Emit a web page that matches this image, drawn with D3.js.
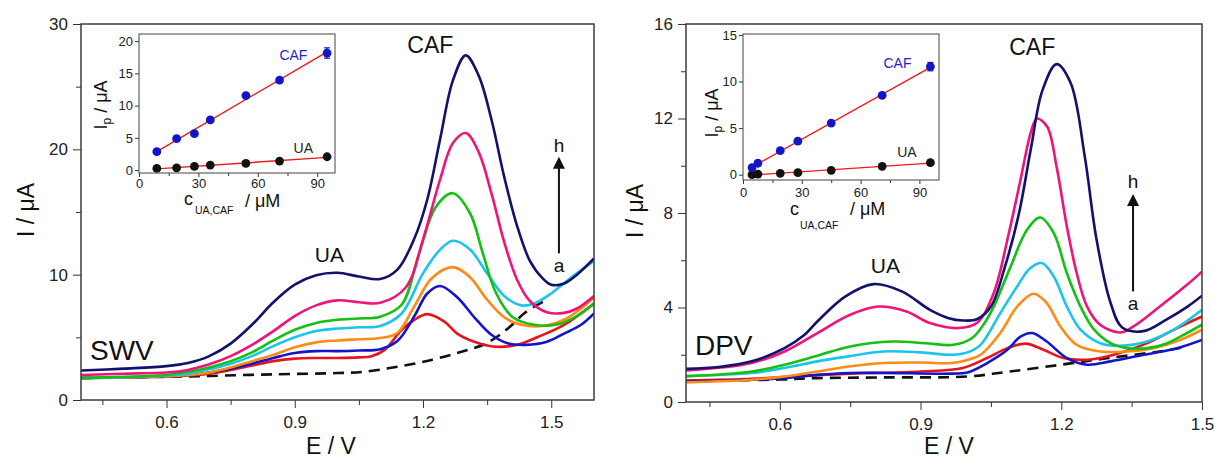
<!DOCTYPE html>
<html>
<head>
<meta charset="utf-8">
<script src="https://cdn.jsdelivr.net/npm/d3@7"></script>
<style>
  body { margin: 0; background: #fff; }
  svg { display: block; font-family: "Liberation Sans", Arial, sans-serif; }
</style>
</head>
<body>
<svg id="chart" width="1215" height="458"></svg>
<script>
// ---------- Square-wave voltammograms (E / V, I / µA), curves a..h ----------
const swvA = [[0.40,1.75],[0.60,1.85],[0.70,1.92],[0.85,2.05],[1.00,2.15],[1.06,2.25],[1.14,2.65],[1.22,3.2],[1.29,3.85],[1.35,4.55],[1.40,5.75],[1.44,7.0],[1.49,8.0]];
const swvB = [[0.40,1.75],[0.50,1.8],[0.60,1.88],[0.65,1.95],[0.70,2.1],[0.75,2.4],[0.80,2.75],[0.85,3.1],[0.90,3.3],[0.95,3.35],[1.00,3.35],[1.05,3.4],[1.08,3.5],[1.11,4.0],[1.15,5.6],[1.18,6.4],[1.21,6.85],[1.25,6.25],[1.28,5.3],[1.32,4.65],[1.37,4.25],[1.42,4.4],[1.47,5.05],[1.53,6.0],[1.60,7.7]];
const swvC = [[0.40,1.75],[0.50,1.8],[0.60,1.9],[0.65,2.0],[0.70,2.2],[0.75,2.5],[0.80,2.9],[0.85,3.35],[0.90,3.75],[0.95,3.9],[1.00,3.9],[1.05,3.95],[1.10,4.05],[1.14,4.7],[1.18,6.7],[1.21,8.5],[1.24,9.1],[1.28,8.2],[1.32,6.6],[1.36,5.2],[1.40,4.5],[1.44,4.4],[1.49,4.65],[1.53,5.3],[1.57,6.0],[1.60,6.9]];
const swvD = [[0.40,1.75],[0.50,1.8],[0.60,1.9],[0.65,2.0],[0.70,2.2],[0.75,2.6],[0.80,3.1],[0.85,3.6],[0.90,4.2],[0.95,4.6],[1.00,4.75],[1.05,4.85],[1.10,4.95],[1.14,5.35],[1.18,7.5],[1.22,9.7],[1.27,10.6],[1.31,9.8],[1.35,8.0],[1.39,6.6],[1.43,6.0],[1.48,5.9],[1.53,6.4],[1.57,7.3],[1.60,8.2]];
const swvE = [[0.40,1.75],[0.50,1.82],[0.60,1.95],[0.65,2.1],[0.70,2.45],[0.75,2.9],[0.80,3.5],[0.85,4.3],[0.90,5.0],[0.95,5.5],[1.00,5.7],[1.05,5.8],[1.10,5.9],[1.15,6.9],[1.20,10.1],[1.24,12.0],[1.27,12.7],[1.31,12.0],[1.35,10.1],[1.39,8.3],[1.43,7.55],[1.46,7.7],[1.50,8.5],[1.54,9.6],[1.60,11.1]];
const swvF = [[0.40,1.75],[0.50,1.85],[0.60,2.0],[0.65,2.25],[0.70,2.6],[0.75,3.1],[0.80,3.8],[0.85,4.75],[0.90,5.6],[0.95,6.15],[1.00,6.4],[1.05,6.5],[1.10,6.65],[1.15,7.6],[1.19,11.6],[1.23,15.4],[1.27,16.5],[1.31,14.9],[1.34,11.7],[1.37,8.6],[1.41,6.6],[1.46,6.0],[1.51,6.0],[1.56,6.7],[1.60,7.7]];
const swvG = [[0.40,2.0],[0.50,2.1],[0.60,2.2],[0.65,2.4],[0.70,2.85],[0.75,3.5],[0.80,4.4],[0.85,5.5],[0.90,6.7],[0.95,7.55],[1.00,7.95],[1.05,7.8],[1.10,7.75],[1.16,9.0],[1.20,12.8],[1.24,17.6],[1.27,20.5],[1.30,21.3],[1.33,19.8],[1.36,16.5],[1.39,12.6],[1.42,9.6],[1.45,7.9],[1.49,7.0],[1.53,6.95],[1.56,7.3],[1.60,8.3]];
const swvH = [[0.40,2.35],[0.50,2.5],[0.60,2.7],[0.65,2.95],[0.70,3.5],[0.75,4.5],[0.80,6.0],[0.85,7.8],[0.90,9.2],[0.95,9.95],[1.00,10.15],[1.05,9.85],[1.10,9.65],[1.14,10.4],[1.18,12.9],[1.21,16.0],[1.24,20.8],[1.27,25.5],[1.30,27.5],[1.33,25.9],[1.36,22.4],[1.39,17.8],[1.42,13.9],[1.45,11.1],[1.48,9.7],[1.50,9.2],[1.53,9.3],[1.56,10.0],[1.60,11.3]];

// ---------- Differential pulse voltammograms, curves a..h ----------
const dpvA = [[0.40,0.9],[0.60,0.95],[0.68,1.01],[0.82,1.04],[1.00,1.08],[1.09,1.29],[1.20,1.58],[1.30,1.86],[1.41,2.14],[1.47,2.35]];
const dpvB = [[0.40,0.9],[0.54,0.98],[0.61,1.06],[0.75,1.2],[0.90,1.29],[0.99,1.44],[1.042,1.86],[1.085,2.28],[1.124,2.47],[1.162,2.21],[1.205,1.86],[1.255,1.79],[1.312,2.0],[1.383,2.49],[1.447,3.13],[1.50,3.62]];
const dpvC = [[0.40,0.87],[0.54,0.94],[0.61,1.01],[0.68,1.15],[0.75,1.23],[0.82,1.23],[0.967,1.2],[1.00,1.25],[1.042,1.65],[1.085,2.21],[1.113,2.77],[1.138,2.92],[1.169,2.56],[1.212,1.86],[1.255,1.58],[1.305,1.72],[1.376,2.0],[1.447,2.28],[1.50,2.63]];
const dpvD = [[0.40,0.83],[0.54,0.94],[0.61,1.08],[0.68,1.29],[0.75,1.51],[0.82,1.65],[0.90,1.67],[0.967,1.65],[1.00,1.78],[1.028,2.0],[1.07,2.92],[1.106,4.04],[1.141,4.58],[1.169,4.19],[1.198,3.2],[1.233,2.42],[1.283,2.14],[1.34,2.14],[1.397,2.28],[1.454,2.63],[1.50,3.06]];
const dpvE = [[0.40,1.11],[0.54,1.23],[0.61,1.44],[0.68,1.72],[0.746,1.93],[0.82,2.14],[0.90,2.1],[0.967,2.0],[1.00,2.1],[1.028,2.42],[1.07,3.76],[1.106,4.89],[1.134,5.67],[1.159,5.88],[1.184,5.31],[1.212,4.04],[1.241,3.06],[1.283,2.49],[1.326,2.38],[1.383,2.56],[1.44,3.06],[1.50,3.9]];
const dpvF = [[0.40,1.08],[0.54,1.29],[0.61,1.58],[0.68,1.96],[0.75,2.35],[0.84,2.56],[0.91,2.49],[0.97,2.42],[1.01,2.71],[1.035,3.3],[1.056,4.04],[1.092,5.73],[1.127,7.29],[1.155,7.81],[1.184,7.15],[1.212,5.45],[1.241,4.04],[1.27,3.06],[1.305,2.49],[1.34,2.28],[1.383,2.28],[1.426,2.49],[1.468,2.92],[1.50,3.27]];
const dpvG = [[0.40,1.34],[0.47,1.45],[0.54,1.65],[0.61,2.14],[0.68,2.92],[0.75,3.69],[0.81,4.04],[0.87,3.83],[0.92,3.34],[0.98,3.13],[1.02,3.34],[1.056,4.61],[1.085,6.86],[1.113,9.4],[1.135,11.4],[1.148,12.0],[1.17,11.65],[1.19,9.96],[1.212,7.42],[1.233,5.45],[1.255,4.04],[1.283,3.27],[1.326,2.94],[1.354,3.2],[1.41,4.04],[1.468,4.96],[1.50,5.52]];
const dpvH = [[0.40,1.40],[0.47,1.48],[0.54,1.72],[0.61,2.28],[0.65,2.8],[0.68,3.41],[0.74,4.47],[0.80,4.99],[0.86,4.68],[0.92,3.9],[0.96,3.55],[0.99,3.45],[1.02,3.5],[1.05,4.04],[1.08,5.73],[1.11,8.0],[1.135,10.7],[1.16,13.2],[1.19,14.3],[1.22,13.5],[1.25,10.4],[1.275,6.9],[1.305,4.2],[1.33,3.15],[1.375,3.0],[1.425,3.5],[1.47,4.05],[1.50,4.5]];

// ---------- Calibration data for the insets (c / µM, Ip / µA) ----------
const swvConc = [9, 19, 28, 36, 54, 71, 95];
const swvCafPeak = [2.85, 4.87, 5.65, 7.78, 11.56, 13.95, 18.15];
const swvCafErr = [0.2, 0.2, 0.2, 0.2, 0.25, 0.3, 0.8];
const swvUaPeak = [0.26, 0.36, 0.57, 0.78, 1.04, 1.40, 2.07];

const dpvConc = [4.6, 7.6, 19, 28, 45, 71, 95.6];
const dpvCafPeak = [0.75, 1.23, 2.58, 3.60, 5.54, 8.52, 11.6];
const dpvCafErr = [0.1, 0.1, 0.1, 0.15, 0.15, 0.2, 0.45];
const dpvUaPeak = [0.0, 0.07, 0.15, 0.22, 0.47, 0.90, 1.29];

// ---------- Tick values ----------
const swvXTicks = [0.6, 0.9, 1.2, 1.5];
const swvXMinor = [0.45, 0.75, 1.05, 1.35];
const swvYTicks = [0, 10, 20, 30];
const swvYMinor = [5, 15, 25];
const dpvXTicks = [0.6, 0.9, 1.2, 1.5];
const dpvXMinor = [0.45, 0.75, 1.05, 1.35];
const dpvYTicks = [0, 4, 8, 12, 16];
const dpvYMinor = [2, 6, 10, 14];
const swvInsetYTicks = [0, 5, 10, 15, 20];
const dpvInsetYTicks = [0, 5, 10, 15];
const insetXTicks = [0, 30, 60, 90];
const insetXMinor = [15, 45, 75];

const curveColors = {
  a: "#111111", b: "#e8141c", c: "#1414c8", d: "#ff8a14",
  e: "#1cc4ea", f: "#14c014", g: "#f0147a", h: "#12126e"
};

const svg = d3.select("#chart");
const FONT = '"Liberation Sans", Arial, sans-serif';

function styleAxis(sel, size) {
  sel.attr("font-family", FONT).attr("font-size", size).attr("color", "#333");
  sel.selectAll("text").attr("fill", "#222");
  sel.select(".domain").remove();
}

function drawMain(cfg) {
  const g = svg.append("g");
  const x = d3.scaleLinear().domain(cfg.xDomain).range([cfg.x0, cfg.x1]);
  const y = d3.scaleLinear().domain(cfg.yDomain).range([cfg.y1, cfg.y0]);

  // minor ticks
  g.append("g").attr("transform", `translate(0,${cfg.y1})`)
    .call(d3.axisBottom(x).tickValues(cfg.xMinor).tickSize(5).tickFormat(""))
    .call(s => styleAxis(s, 17));
  g.append("g").attr("transform", `translate(${cfg.x0},0)`)
    .call(d3.axisLeft(y).tickValues(cfg.yMinor).tickSize(5).tickFormat(""))
    .call(s => styleAxis(s, 17));
  // major ticks
  g.append("g").attr("transform", `translate(0,${cfg.y1})`)
    .call(d3.axisBottom(x).tickValues(cfg.xTicks).tickSize(8).tickPadding(8).tickFormat(d3.format(".1f")))
    .call(s => styleAxis(s, 17));
  g.append("g").attr("transform", `translate(${cfg.x0},0)`)
    .call(d3.axisLeft(y).tickValues(cfg.yTicks).tickSize(8).tickPadding(5).tickFormat(d3.format("d")))
    .call(s => styleAxis(s, 17));

  // curves
  const clipId = "clip-" + cfg.name;
  g.append("clipPath").attr("id", clipId).append("rect")
    .attr("x", cfg.x0).attr("y", cfg.y0).attr("width", cfg.x1 - cfg.x0).attr("height", cfg.y1 - cfg.y0);
  const line = d3.line().x(d => x(d[0])).y(d => y(d[1])).curve(d3.curveCatmullRom.alpha(0.5));
  const cg = g.append("g").attr("clip-path", `url(#${clipId})`);
  cfg.curves.forEach(c => {
    cg.append("path").attr("d", line(c.data)).attr("fill", "none")
      .attr("stroke", curveColors[c.key]).attr("stroke-width", 2.6)
      .attr("stroke-linejoin", "round").attr("stroke-linecap", "butt")
      .attr("stroke-dasharray", c.key === "a" ? "11,7" : null);
  });

  // frame
  g.append("rect").attr("x", cfg.x0).attr("y", cfg.y0)
    .attr("width", cfg.x1 - cfg.x0).attr("height", cfg.y1 - cfg.y0)
    .attr("fill", "none").attr("stroke", "#3c3c3c").attr("stroke-width", 1.5);

  // axis titles
  g.append("text").attr("transform", `translate(${cfg.yTitle[0]},${cfg.yTitle[1]}) rotate(-90)`)
    .attr("text-anchor", "middle").attr("font-size", 23).attr("fill", "#111").text("I / μA");
  g.append("text").attr("x", cfg.xTitle[0]).attr("y", cfg.xTitle[1])
    .attr("text-anchor", "middle").attr("font-size", 23).attr("fill", "#111").text("E / V");

  // annotations
  cfg.labels.forEach(l => {
    g.append("text").attr("x", x(l.E)).attr("y", y(l.I))
      .attr("text-anchor", l.anchor || "middle").attr("font-size", l.size)
      .attr("fill", "#111").text(l.text);
  });
  const ar = cfg.arrow;
  const ax = x(ar.E), yTail = y(ar.from), yTip = y(ar.to);
  g.append("line").attr("x1", ax).attr("x2", ax).attr("y1", yTail).attr("y2", yTip + 10)
    .attr("stroke", "#111").attr("stroke-width", 2);
  g.append("path").attr("d", `M${ax},${yTip} L${ax - 6},${yTip + 12} L${ax + 6},${yTip + 12} Z`).attr("fill", "#111");
  return { x, y };
}

function fit(xs, ys) {
  const mx = d3.mean(xs), my = d3.mean(ys);
  const sxy = d3.sum(xs, (v, i) => (v - mx) * (ys[i] - my));
  const sxx = d3.sum(xs, v => (v - mx) * (v - mx));
  const k = sxy / sxx;
  return { k, b: my - k * mx };
}

function drawInset(cfg) {
  const g = svg.append("g");
  const x = d3.scaleLinear().domain(cfg.xDomain).range([cfg.x0, cfg.x1]);
  const y = d3.scaleLinear().domain(cfg.yDomain).range([cfg.y1, cfg.y0]);
  g.append("rect").attr("x", cfg.x0).attr("y", cfg.y0)
    .attr("width", cfg.x1 - cfg.x0).attr("height", cfg.y1 - cfg.y0).attr("fill", "#fff");

  g.append("g").attr("transform", `translate(0,${cfg.y1})`)
    .call(d3.axisBottom(x).tickValues(insetXMinor).tickSize(3).tickFormat(""))
    .call(s => styleAxis(s, 13));
  g.append("g").attr("transform", `translate(0,${cfg.y1})`)
    .call(d3.axisBottom(x).tickValues(insetXTicks).tickSize(4).tickPadding(cfg.xPad).tickFormat(d3.format("d")))
    .call(s => styleAxis(s, 13));
  g.append("g").attr("transform", `translate(${cfg.x0},0)`)
    .call(d3.axisLeft(y).tickValues(cfg.yTicks).tickSize(4).tickPadding(2).tickFormat(d3.format("d")))
    .call(s => styleAxis(s, 13));

  // regression lines
  [cfg.caf, cfg.ua].forEach(ys => {
    const f = fit(cfg.conc, ys);
    const x1 = cfg.conc[0], x2 = cfg.conc[cfg.conc.length - 1];
    g.append("line").attr("x1", x(x1)).attr("y1", y(f.k * x1 + f.b))
      .attr("x2", x(x2)).attr("y2", y(f.k * x2 + f.b))
      .attr("stroke", "#f01818").attr("stroke-width", 1.4);
  });

  // error bars (CAF)
  cfg.conc.forEach((c, i) => {
    const e = cfg.cafErr[i];
    g.append("line").attr("x1", x(c)).attr("x2", x(c)).attr("y1", y(cfg.caf[i] - e)).attr("y2", y(cfg.caf[i] + e))
      .attr("stroke", "#1414c8").attr("stroke-width", 1.2);
    [cfg.caf[i] - e, cfg.caf[i] + e].forEach(v => {
      g.append("line").attr("x1", x(c) - 3).attr("x2", x(c) + 3).attr("y1", y(v)).attr("y2", y(v))
        .attr("stroke", "#1414c8").attr("stroke-width", 1.2);
    });
  });

  // markers
  g.selectAll(null).data(cfg.conc).join("circle")
    .attr("cx", d => x(d)).attr("cy", (d, i) => y(cfg.ua[i])).attr("r", 4.4).attr("fill", "#111");
  g.selectAll(null).data(cfg.conc).join("circle")
    .attr("cx", d => x(d)).attr("cy", (d, i) => y(cfg.caf[i])).attr("r", 4.4).attr("fill", "#1414c8");

  g.append("rect").attr("x", cfg.x0).attr("y", cfg.y0)
    .attr("width", cfg.x1 - cfg.x0).attr("height", cfg.y1 - cfg.y0)
    .attr("fill", "none").attr("stroke", "#555").attr("stroke-width", 1.1);

  // series labels
  g.append("text").attr("x", x(cfg.cafLabel[0])).attr("y", y(cfg.cafLabel[1]))
    .attr("text-anchor", "middle").attr("font-size", 14).attr("fill", "#1e1ed2").text("CAF");
  g.append("text").attr("x", x(cfg.uaLabel[0])).attr("y", y(cfg.uaLabel[1]))
    .attr("text-anchor", "middle").attr("font-size", 14).attr("fill", "#222").text("UA");

  // axis titles
  const yt = g.append("text").attr("transform", `translate(${cfg.yTitle[0]},${cfg.yTitle[1]}) rotate(-90)`)
    .attr("text-anchor", "middle").attr("font-size", 18).attr("fill", "#111");
  yt.append("tspan").text("I");
  yt.append("tspan").attr("font-size", 12).attr("dy", 4).text("p");
  yt.append("tspan").attr("dy", -4).text(" / μA");

  const t = cfg.xTitle;
  g.append("text").attr("x", t.c[0]).attr("y", t.c[1]).attr("font-size", 18).attr("fill", "#111").text("c");
  g.append("text").attr("x", t.sub[0]).attr("y", t.sub[1]).attr("font-size", 10.5).attr("fill", "#111").text("UA,CAF");
  g.append("text").attr("x", t.unit[0]).attr("y", t.unit[1]).attr("font-size", 18).attr("fill", "#111").text("/ μM");
}

// ---------- Square wave panel ----------
drawMain({
  name: "swv", x0: 81, x1: 594, y0: 24, y1: 400,
  xDomain: [0.4, 1.6], yDomain: [0, 30],
  xTicks: swvXTicks, xMinor: swvXMinor, yTicks: swvYTicks, yMinor: swvYMinor,
  curves: [
    { key: "a", data: swvA }, { key: "b", data: swvB }, { key: "c", data: swvC },
    { key: "d", data: swvD }, { key: "e", data: swvE }, { key: "f", data: swvF },
    { key: "g", data: swvG }, { key: "h", data: swvH }
  ],
  yTitle: [34, 210], xTitle: [331, 454],
  labels: [
    { text: "CAF", E: 1.217, I: 27.67, size: 23 },
    { text: "UA", E: 0.981, I: 11.0, size: 21 },
    { text: "SWV", E: 0.421, I: 3.19, size: 28, anchor: "start" },
    { text: "h", E: 1.518, I: 19.75, size: 19 },
    { text: "a", E: 1.518, I: 10.2, size: 19 }
  ],
  arrow: { E: 1.518, from: 11.7, to: 19.4 }
});

drawInset({
  x0: 139, x1: 335, y0: 34, y1: 173,
  xDomain: [0, 99], yDomain: [-0.45, 21.1], yTicks: swvInsetYTicks, xPad: 2,
  conc: swvConc, caf: swvCafPeak, cafErr: swvCafErr, ua: swvUaPeak,
  cafLabel: [78, 17.1], uaLabel: [83, 2.6],
  yTitle: [107, 105],
  xTitle: { c: [184, 205], sub: [195, 214], unit: [245, 207] }
});

// ---------- Differential pulse panel ----------
drawMain({
  name: "dpv", x0: 686, x1: 1202, y0: 24, y1: 402,
  xDomain: [0.4, 1.5], yDomain: [0, 16],
  xTicks: dpvXTicks, xMinor: dpvXMinor, yTicks: dpvYTicks, yMinor: dpvYMinor,
  curves: [
    { key: "a", data: dpvA }, { key: "b", data: dpvB }, { key: "c", data: dpvC },
    { key: "d", data: dpvD }, { key: "e", data: dpvE }, { key: "f", data: dpvF },
    { key: "g", data: dpvG }, { key: "h", data: dpvH }
  ],
  yTitle: [643, 211], xTitle: [949, 454],
  labels: [
    { text: "CAF", E: 1.138, I: 14.69, size: 23 },
    { text: "UA", E: 0.825, I: 5.47, size: 21 },
    { text: "DPV", E: 0.419, I: 2.0, size: 28, anchor: "start" },
    { text: "h", E: 1.353, I: 9.06, size: 19 },
    { text: "a", E: 1.353, I: 3.9, size: 19 }
  ],
  arrow: { E: 1.353, from: 4.68, to: 8.8 }
});

drawInset({
  x0: 743, x1: 939, y0: 34, y1: 180,
  xDomain: [0, 100], yDomain: [-0.57, 15.1], yTicks: dpvInsetYTicks, xPad: 4,
  conc: dpvConc, caf: dpvCafPeak, cafErr: dpvCafErr, ua: dpvUaPeak,
  cafLabel: [78.8, 11.5], uaLabel: [83.6, 1.9],
  yTitle: [718, 113],
  xTitle: { c: [790, 215], sub: [800, 229], unit: [850, 215] }
});
</script>
</body>
</html>
